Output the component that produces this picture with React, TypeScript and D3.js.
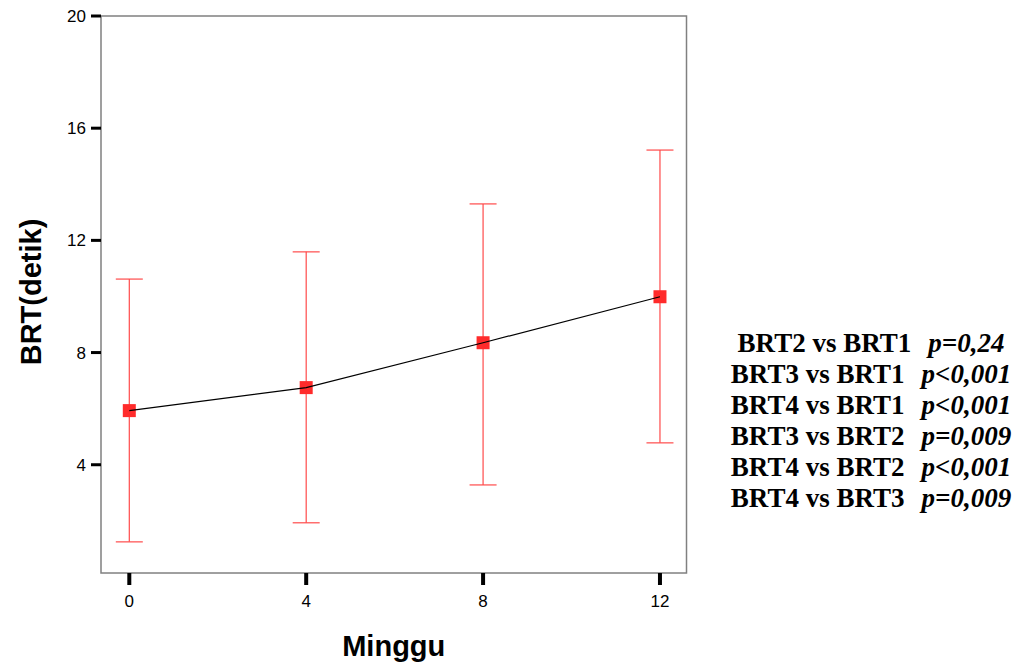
import React from "react";
import { scaleLinear, line } from "d3";

// data
const weeks = [0, 4, 8, 12];
const means = [5.93, 6.75, 8.35, 9.99];
const upper = [10.62, 11.59, 13.3, 15.22];
const lower = [1.25, 1.93, 3.28, 4.78];
const yTicks = [4, 8, 12, 16, 20];
const xTicks = [0, 4, 8, 12];
const comparisons = [
  "BRT2 vs BRT1",
  "BRT3 vs BRT1",
  "BRT4 vs BRT1",
  "BRT3 vs BRT2",
  "BRT4 vs BRT2",
  "BRT4 vs BRT3",
];
const pValues = ["p=0,24", "p<0,001", "p<0,001", "p=0,009", "p<0,001", "p=0,009"];

const W = 1021;
const H = 664;
const left = 101;
const right = 686.5;
const top = 16;
const bottom = 573;

const sans = "Arial, 'Liberation Sans', sans-serif";
const serif = "'Times New Roman', 'Liberation Serif', serif";

export default function App() {
  const x = scaleLinear().domain([-0.64, 12.6]).range([left, right]);
  const y = scaleLinear().domain([0.14, 20]).range([bottom, top]);

  const pts = weeks.map((w, i) => ({ w, m: means[i], hi: upper[i], lo: lower[i] }));

  const meanLine = line<{ w: number; m: number }>()
    .x((d) => x(d.w))
    .y((d) => y(d.m));

  const cap = 13.5;
  const ms = 13;

  return (
    <svg
      width={W}
      height={H}
      style={{ position: "absolute", left: 0, top: 0, background: "#fff" }}
    >
      {/* frame */}
      <rect
        x={left}
        y={top}
        width={right - left}
        height={bottom - top}
        fill="none"
        stroke="#808080"
        strokeWidth={1.5}
      />

      {/* y axis ticks */}
      {yTicks.map((t) => (
        <g key={"y" + t}>
          <line x1={left - 10} x2={left} y1={y(t)} y2={y(t)} stroke="#000" strokeWidth={3} />
          <text
            x={left - 15}
            y={y(t)}
            dy="0.36em"
            textAnchor="end"
            fontFamily={sans}
            fontSize={17}
          >
            {t}
          </text>
        </g>
      ))}

      {/* x axis ticks */}
      {xTicks.map((t) => (
        <g key={"x" + t}>
          <line x1={x(t)} x2={x(t)} y1={bottom} y2={bottom + 12} stroke="#000" strokeWidth={4} />
          <text x={x(t)} y={607} textAnchor="middle" fontFamily={sans} fontSize={17}>
            {t}
          </text>
        </g>
      ))}

      {/* error bars */}
      {pts.map((d) => (
        <g key={"e" + d.w} stroke="#ff4a4a" strokeWidth={1.2}>
          <line x1={x(d.w)} x2={x(d.w)} y1={y(d.hi)} y2={y(d.lo)} />
          <line x1={x(d.w) - cap} x2={x(d.w) + cap} y1={y(d.hi)} y2={y(d.hi)} />
          <line x1={x(d.w) - cap} x2={x(d.w) + cap} y1={y(d.lo)} y2={y(d.lo)} />
        </g>
      ))}

      {/* mean markers */}
      {pts.map((d) => (
        <rect
          key={"m" + d.w}
          x={x(d.w) - ms / 2}
          y={y(d.m) - ms / 2}
          width={ms}
          height={ms}
          fill="#ff2b2b"
        />
      ))}

      <path d={meanLine(pts) || ""} fill="none" stroke="#000" strokeWidth={1.2} />

      {/* axis titles */}
      <text
        transform={`translate(41,292) rotate(-90)`}
        textAnchor="middle"
        fontFamily={sans}
        fontWeight="bold"
        fontSize={29}
      >
        BRT(detik)
      </text>
      <text
        x={(left + right) / 2}
        y={656}
        textAnchor="middle"
        fontFamily={sans}
        fontWeight="bold"
        fontSize={29}
      >
        Minggu
      </text>

      {/* comparisons */}
      {comparisons.map((c, i) => (
        <text
          key={c + i}
          x={871}
          y={352 + i * 31}
          textAnchor="middle"
          fontFamily={serif}
          fontWeight="bold"
          fontSize={27}
        >
          <tspan>{c}</tspan>
          <tspan dx={17} fontStyle="italic">
            {pValues[i]}
          </tspan>
        </text>
      ))}
    </svg>
  );
}
